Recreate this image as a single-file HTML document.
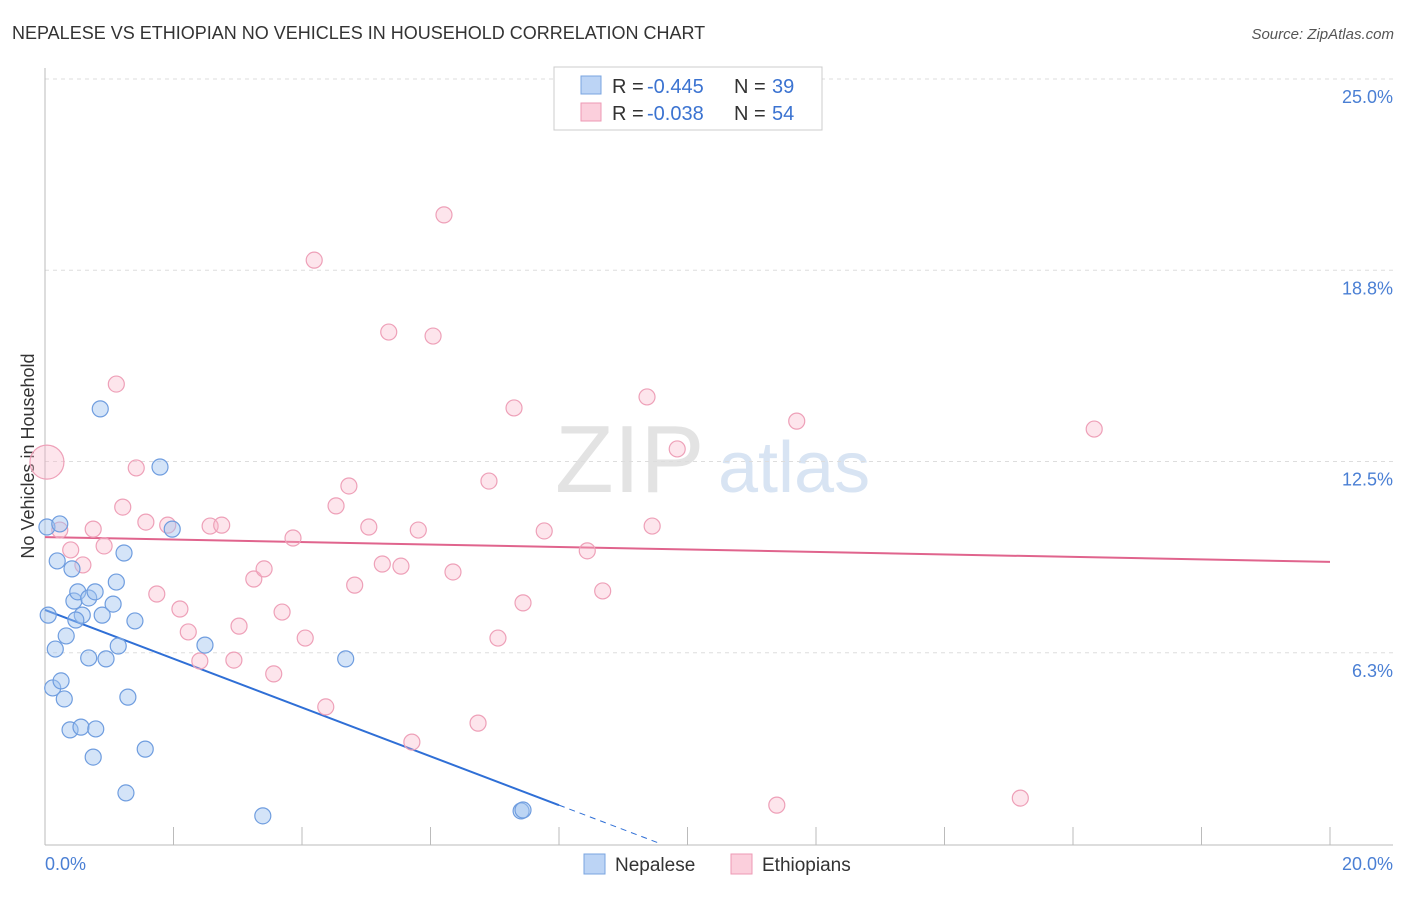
<!DOCTYPE html>
<html><head><meta charset="utf-8"><style>
body{margin:0;background:#fff;font-family:"Liberation Sans",sans-serif;}
svg text{font-family:"Liberation Sans",sans-serif;}
</style></head><body>
<svg id="chart" width="1406" height="892">
<text x="12" y="39" font-size="18" fill="#333">NEPALESE VS ETHIOPIAN NO VEHICLES IN HOUSEHOLD CORRELATION CHART</text>
<text x="1394" y="39" font-size="15" fill="#555" text-anchor="end" font-style="italic">Source: ZipAtlas.com</text>
<text x="34" y="456" font-size="18" fill="#333" text-anchor="middle" transform="rotate(-90 34 456)">No Vehicles in Household</text>
<g><text x="555" y="492" font-size="96" fill="#e3e3e3" font-family="Liberation Serif">ZIP</text><text x="718" y="492" font-size="72" fill="#d8e4f3">atlas</text></g>
<g id="grid"></g><g id="axes"></g><g id="trend"></g><g id="pts"></g>
<g>
<rect x="554" y="67" width="268" height="63" fill="#fff" stroke="#ccc"/>
<rect x="581" y="76" width="20" height="18" fill="#bcd4f5" stroke="#7aa4e0"/>
<rect x="581" y="103" width="20" height="18" fill="#fbcfdc" stroke="#ee9ab4"/>
<text x="612" y="93" font-size="20" fill="#333">R =</text>
<text x="647" y="93" font-size="20" fill="#3b73d1">-0.445</text>
<text x="734" y="93" font-size="20" fill="#333">N =</text>
<text x="772" y="93" font-size="20" fill="#3b73d1">39</text>
<text x="612" y="120" font-size="20" fill="#333">R =</text>
<text x="647" y="120" font-size="20" fill="#3b73d1">-0.038</text>
<text x="734" y="120" font-size="20" fill="#333">N =</text>
<text x="772" y="120" font-size="20" fill="#3b73d1">54</text>
</g>
<g>
<rect x="584" y="854" width="21" height="20" fill="#bcd4f5" stroke="#7aa4e0"/>
<text x="615" y="871" font-size="19" fill="#333">Nepalese</text>
<rect x="731" y="854" width="21" height="20" fill="#fbcfdc" stroke="#ee9ab4"/>
<text x="762" y="871" font-size="19" fill="#333">Ethiopians</text>
</g>
</svg>
<script>
const yTicks=[25,18.75,12.5,6.25];
const yTickLabels=["25.0%","18.8%","12.5%","6.3%"];
const xTickLabels=["0.0%","20.0%"];
const nepX=[0.03,0.23,0.19,0.42,0.05,0.45,0.51,0.68,0.78,0.58,0.48,0.89,1.06,1.11,1.23,0.33,0.16,0.68,0.95,1.14,1.40,0.12,0.25,0.30,1.29,0.39,0.56,0.79,0.75,1.56,1.26,0.86,1.79,1.98,2.49,4.68,3.39,7.41,7.44];
const nepY=[10.36,10.46,9.25,8.99,7.48,7.94,8.24,8.04,8.24,7.48,7.32,7.48,7.84,8.56,9.51,6.80,6.37,6.08,6.05,6.47,7.29,5.10,5.33,4.74,4.80,3.73,3.82,3.76,2.84,3.10,1.67,14.22,12.32,10.29,6.50,6.05,0.92,1.08,1.11];
const ethX=[0.03,0.23,0.40,0.59,0.75,0.92,1.11,1.21,1.42,1.57,1.74,1.91,2.10,2.23,2.41,2.57,2.75,2.94,3.02,3.25,3.41,3.56,3.69,3.86,4.05,4.19,4.37,4.53,4.73,4.82,5.04,5.25,5.35,5.54,5.71,5.81,6.04,6.21,6.35,6.74,6.91,7.05,7.30,7.44,7.77,8.44,8.68,9.37,9.45,9.84,11.39,11.70,15.18,16.33];
const ethY=[12.48,10.26,9.61,9.12,10.29,9.74,15.03,11.01,12.29,10.52,8.17,10.42,7.68,6.93,5.98,10.39,10.42,6.01,7.12,8.66,8.99,5.56,7.58,10.00,6.73,19.08,4.48,11.05,11.70,8.46,10.36,9.15,16.73,9.08,3.33,10.26,16.60,20.56,8.89,3.95,11.86,6.73,14.25,7.88,10.23,9.58,8.27,14.61,10.39,12.91,1.27,13.82,1.50,13.56];
const ethR=[];ethR[0]=17;
const nepTrend=[7.65,-0.7975];
const ethTrend=[10.03,-0.0405];
const NS="http://www.w3.org/2000/svg";
const X=v=>45+v*64.25, Y=v=>844-v*30.6;
function mk(t,a,p){const e=document.createElementNS(NS,t);for(const k in a)e.setAttribute(k,a[k]);p.appendChild(e);return e;}
const grid=document.getElementById('grid'),axes=document.getElementById('axes');
yTicks.forEach((t,i)=>{
 const l=mk('line',{x1:45,x2:1393,y1:Y(t),y2:Y(t),stroke:'#ddd','stroke-dasharray':'4,4'},grid);
 
 
 const tx=mk('text',{x:1393,y:Y(t)+24,'font-size':18,fill:'#4a7fd4','text-anchor':'end'},axes);tx.textContent=yTickLabels[i];
 
 
});
const ax=mk('line',{x1:45,x2:1393,y1:845,y2:845,stroke:'#bbb'},axes);


const ay=mk('line',{x1:45,x2:45,y1:68,y2:845,stroke:'#bbb'},axes);


for(let i=0;i<=10;i++){const t=mk('line',{x1:X(i*2),x2:X(i*2),y1:827,y2:845,stroke:'#bbb'},axes);
 
 }
[[0,'start',45],[20,'end',1393]].forEach((d,i)=>{const t=mk('text',{x:d[2],y:870,'font-size':18,fill:'#4a7fd4','text-anchor':d[1]},axes);t.textContent=xTickLabels[i];
 
 });
const tr=document.getElementById('trend');
const f=(c,x)=>c[0]+c[1]*x;
let l1=mk('line',{x1:X(0),y1:Y(f(nepTrend,0)),x2:X(8),y2:Y(f(nepTrend,8)),stroke:'#2f6fd6','stroke-width':2},tr);


let l2=mk('line',{x1:X(8),y1:Y(f(nepTrend,8)),x2:X(9.6),y2:Y(f(nepTrend,9.6)),stroke:'#2f6fd6','stroke-width':1,'stroke-dasharray':'6,5'},tr);


let l3=mk('line',{x1:X(0),y1:Y(f(ethTrend,0)),x2:X(20),y2:Y(f(ethTrend,20)),stroke:'#e0648d','stroke-width':2},tr);


const pts=document.getElementById('pts');
ethX.forEach((x,i)=>{const c=mk('circle',{cx:X(x),cy:Y(ethY[i]),r:ethR[i]||8,fill:'rgba(248,180,200,0.35)',stroke:'#eea0b8','stroke-width':1.2},pts);
 
 });
nepX.forEach((x,i)=>{const c=mk('circle',{cx:X(x),cy:Y(nepY[i]),r:8,fill:'rgba(160,195,240,0.45)',stroke:'#6f9ddf','stroke-width':1.2},pts);
 
 });
</script>
</body></html>
